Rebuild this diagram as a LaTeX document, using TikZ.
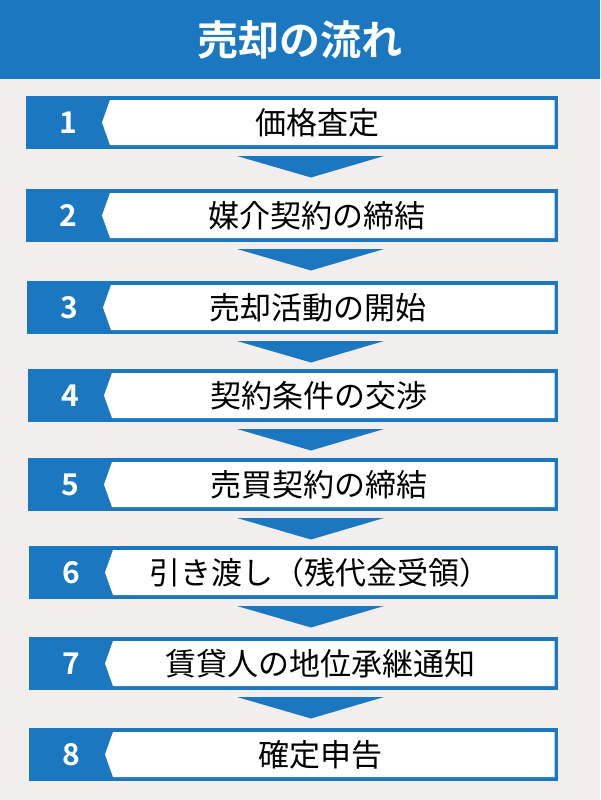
\documentclass[tikz,border=0pt]{standalone}
\usepackage{fontspec}
\setmainfont{Noto Sans CJK JP}[BoldFont={Noto Sans CJK JP Bold}]
\usetikzlibrary{calc}
\definecolor{flowblue}{HTML}{1B78C0}
\definecolor{paper}{HTML}{F3EEEE}
\tikzset{
	steptext/.style={font=\fontsize{31}{31}\selectfont,text=black,inner sep=0pt},
	stepnum/.style={font=\bfseries\fontsize{30}{30}\selectfont,text=white,inner sep=0pt},
	headtext/.style={font=\bfseries\fontsize{41}{41}\selectfont,text=white,inner sep=0pt},
}
\begin{document}
\begin{tikzpicture}[x=1pt,y=-1pt]
	\useasboundingbox (0,0) rectangle (600,800);
	\fill[paper] (0,0) rectangle (600,800);
	\fill[flowblue] (0,0) rectangle (600,79);
	\node[headtext] (title) at (300,40) {売却の流れ};
	\foreach \n/\yy/\xx/\lab in {1/96/26/価格査定,2/189/26/媒介契約の締結,
		3/281/27/売却活動の開始,4/369/28/契約条件の交渉,5/458/28/売買契約の締結,
		6/546/29/引き渡し（残代金受領）,7/637/29/賃貸人の地位承継通知,8/728/29/確定申告}{
		\fill[flowblue] (\xx,\yy) coordinate (tl\n) rectangle (558,\yy+53) coordinate (br\n);
		\fill[white] (\xx+84,\yy+4) -- (554.5,\yy+4) -- (554.5,\yy+49)
			-- (\xx+84,\yy+49) -- (\xx+76,\yy+26.5) -- cycle;
		\node[stepnum] (num\n) at (\xx+42,\yy+26.5) {\n};
		\node[steptext] (step\n) at (\xx+291,\yy+26.5) {\lab};
	}
	\foreach \a in {1,...,7}{
		\fill[flowblue] ($(br\a)+(-321,7)$) -- ($(br\a)+(-174,7)$)
			-- ($(br\a)+(-247,28.5)$) -- cycle;
	}
\end{tikzpicture}
\end{document}
